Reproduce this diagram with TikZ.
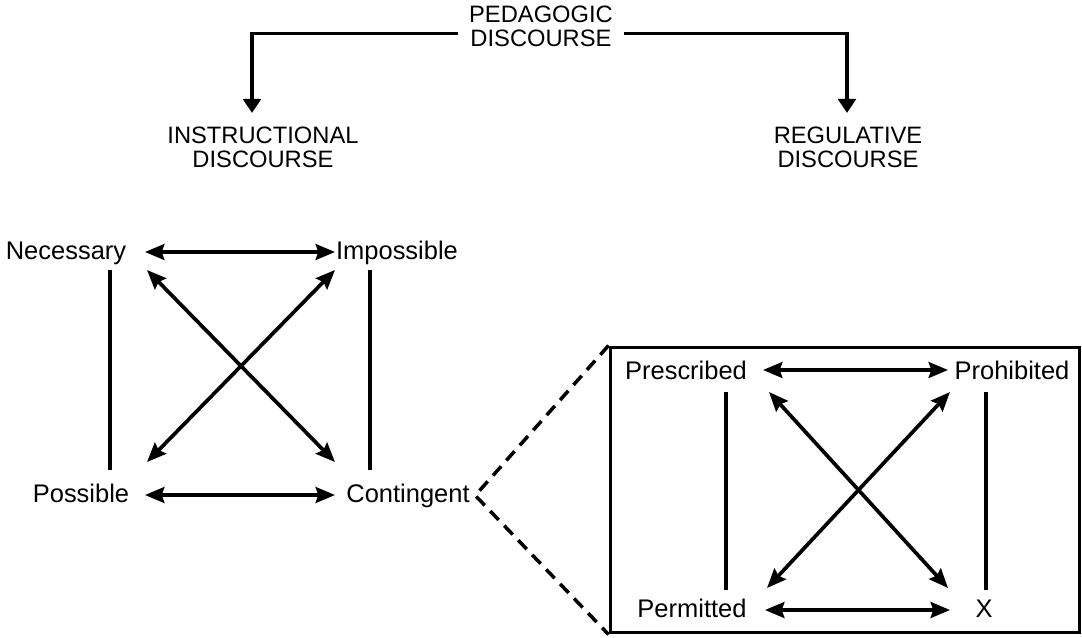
\documentclass[tikz,border=0pt]{standalone}
\usepackage{fontspec}
\setmainfont{Liberation Sans}
\usetikzlibrary{arrows.meta}

\tikzset{
  head/.style={font=\fontsize{13.5}{13.4}\selectfont, align=center, inner sep=0pt, anchor=north},
  term/.style={font=\fontsize{14.5}{14.5}\selectfont, inner sep=0pt, anchor=base},
  rel/.style={line width=2.1pt, {Stealth[length=11pt,width=9pt,inset=1.5pt]}-{Stealth[length=11pt,width=9pt,inset=1.5pt]}},
  subline/.style={line width=2.1pt},
  branch/.style={line width=2.1pt, -{Triangle[length=8pt,width=10pt]}},
  callout/.style={line width=2pt, dash pattern=on 7pt off 4.5pt, line join=round},
}

\begin{document}
\begin{tikzpicture}[x=0.02cm, y=-0.02cm]
\useasboundingbox (0,0) rectangle (1082,637);

% discourses
\node[head] (ped) at (541,6) {PEDAGOGIC\\DISCOURSE};
\node[head] (ins) at (263,127) {INSTRUCTIONAL\\DISCOURSE};
\node[head] (reg) at (848,127) {REGULATIVE\\DISCOURSE};
\coordinate (insTip) at (252,113);
\coordinate (regTip) at (847,113);

\draw[branch, shorten <=6pt] ([yshift=-4pt]ped.west) -| (insTip);
\draw[branch, shorten <=6pt] ([yshift=-4pt]ped.east) -| (regTip);

% instructional square
\node[term] (nec) at (66,259) {Necessary};
\node[term] (imp) at (397,259) {Impossible};
\node[term] (pos) at (81,502) {Possible};
\node[term] (con) at (408,502) {Contingent};

\coordinate (necR) at (145,252);
\coordinate (impL) at (335,252);
\coordinate (posR) at (145,495);
\coordinate (conL) at (335,495);
\coordinate (necD) at (147,270);
\coordinate (impD) at (335,270);
\coordinate (posU) at (147,462);
\coordinate (conU) at (335,462);
\coordinate (necV) at (110,270);
\coordinate (posV) at (110,470);
\coordinate (impV) at (370,270);
\coordinate (conV) at (370,470);

\draw[rel] (necR) -- (impL);
\draw[rel] (posR) -- (conL);
\draw[rel] (necD) -- (conU);
\draw[rel] (impD) -- (posU);
\draw[subline] (necV) -- (posV);
\draw[subline] (impV) -- (conV);

% regulative square, boxed
\node[draw, line width=1.7pt, minimum width=9.4cm, minimum height=5.72cm, inner sep=0pt] (box) at (845,490) {};

\node[term] (pre) at (686,379) {Prescribed};
\node[term] (pro) at (1012,379) {Prohibited};
\node[term] (per) at (692,617) {Permitted};
\node[term] (x) at (984,617) {X};

\coordinate (preR) at (763,370);
\coordinate (proL) at (948,370);
\coordinate (perR) at (765,610);
\coordinate (xL) at (950,610);
\coordinate (preD) at (769,392);
\coordinate (proD) at (950,392);
\coordinate (perU) at (767,588);
\coordinate (xU) at (948,588);
\coordinate (preV) at (726,392);
\coordinate (perV) at (726,590);
\coordinate (proV) at (986,392);
\coordinate (xV) at (986,590);

\draw[rel] (preR) -- (proL);
\draw[rel] (perR) -- (xL);
\draw[rel] (preD) -- (xU);
\draw[rel] (proD) -- (perU);
\draw[subline] (preV) -- (perV);
\draw[subline] (proV) -- (xV);

% contingent opened up
\draw[callout] (box.north west) -- ([xshift=3pt]con.east) -- (box.south west);

\end{tikzpicture}
\end{document}
